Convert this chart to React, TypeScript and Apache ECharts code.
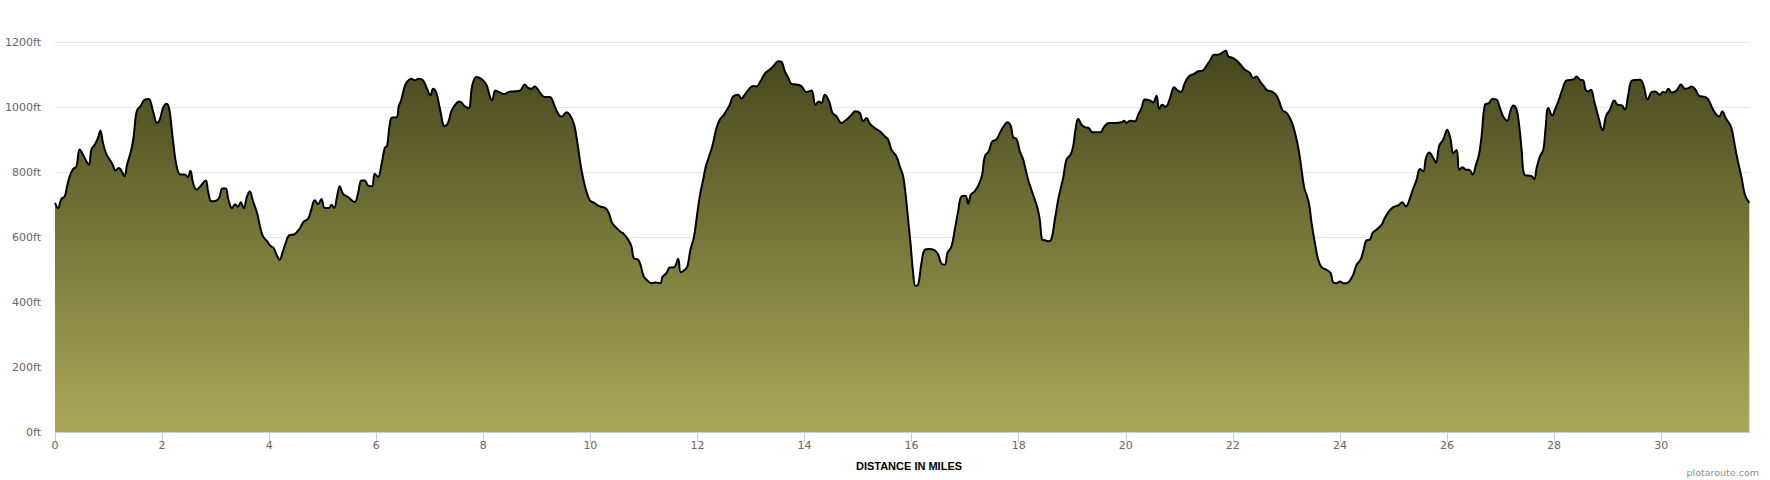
import React, { useEffect, useRef } from "react";
import * as echarts from "echarts";

// [distance in miles, elevation in feet]
const segmentA: [number, number][] = [
  [0, 705], [0.057, 689], [0.119, 717], [0.181, 725], [0.225, 756], [0.275, 787], [0.337, 809], [0.399, 817], [0.461, 869], [0.524, 853],
  [0.586, 833], [0.636, 822], [0.679, 869], [0.742, 884], [0.804, 905], [0.848, 928], [0.897, 889], [0.959, 855], [1.022, 838], [1.084, 820],
  [1.128, 805], [1.19, 812], [1.24, 804], [1.296, 787], [1.346, 822], [1.427, 869], [1.47, 910], [1.508, 971], [1.539, 992], [1.595, 1002],
  [1.676, 1023], [1.75, 1025], [1.831, 987], [1.906, 951], [1.956, 961], [2.019, 997], [2.081, 1010], [2.13, 997], [2.174, 941], [2.217, 879],
  [2.267, 822], [2.342, 792], [2.423, 792], [2.479, 784], [2.529, 804], [2.579, 766], [2.641, 746], [2.716, 756], [2.815, 774], [2.859, 741],
  [2.921, 710], [2.996, 711], [3.064, 720], [3.127, 749], [3.189, 749], [3.239, 715], [3.307, 689], [3.363, 701], [3.419, 693], [3.469, 707],
  [3.525, 689], [3.587, 725], [3.637, 740], [3.699, 710], [3.774, 674], [3.836, 628], [3.886, 602], [3.961, 587], [4.023, 573], [4.085, 566],
  [4.135, 546], [4.198, 530], [4.247, 551], [4.31, 582], [4.372, 605], [4.478, 609], [4.559, 623], [4.646, 647], [4.727, 656], [4.789, 686],
  [4.852, 713], [4.914, 701], [4.976, 717], [5.039, 689], [5.12, 689], [5.163, 699], [5.213, 689], [5.269, 725], [5.319, 756],
];

const segmentB: [number, number][] = [
  [5.381, 733], [5.474, 723], [5.599, 708], [5.661, 735], [5.723, 774], [5.785, 774], [5.848, 758], [5.922, 756], [5.972, 795], [6.034, 785],
  [6.097, 822], [6.159, 874], [6.203, 881], [6.252, 946], [6.296, 968], [6.377, 968], [6.421, 1002], [6.47, 1023], [6.533, 1064], [6.582, 1079],
  [6.657, 1087], [6.719, 1082], [6.794, 1087], [6.875, 1082], [6.956, 1053], [7.012, 1036], [7.062, 1056], [7.124, 1043], [7.187, 997], [7.28, 941],
  [7.342, 951], [7.404, 987], [7.498, 1012], [7.56, 1017], [7.654, 1002], [7.728, 997], [7.791, 1064], [7.872, 1092], [7.965, 1086], [8.058, 1069],
  [8.121, 1033], [8.164, 1020], [8.226, 1051], [8.307, 1045], [8.401, 1040], [8.451, 1045], [8.556, 1048], [8.681, 1050], [8.774, 1069], [8.837, 1059],
  [8.899, 1056], [8.961, 1064], [9.055, 1045], [9.148, 1031], [9.241, 1031], [9.335, 1002], [9.41, 976], [9.472, 971], [9.553, 984], [9.615, 976],
  [9.696, 946], [9.758, 889], [9.833, 807], [9.908, 751], [9.989, 713], [10.07, 705], [10.175, 694], [10.281, 689], [10.344, 674], [10.406, 643],
  [10.487, 628], [10.58, 614],
];

const segmentC: [number, number][] = [
  [10.611, 612], [10.705, 592], [10.767, 571], [10.811, 535], [10.891, 530], [10.935, 515], [10.997, 479], [11.078, 464], [11.141, 458], [11.222, 460],
  [11.309, 458], [11.346, 477], [11.421, 489], [11.483, 506], [11.564, 507], [11.639, 533], [11.689, 491], [11.763, 499], [11.813, 510], [11.869, 561],
  [11.931, 597], [11.981, 653], [12.043, 725], [12.106, 776], [12.156, 817], [12.218, 848], [12.28, 881], [12.355, 935], [12.417, 961], [12.492, 976],
  [12.554, 992], [12.604, 1007], [12.666, 1033], [12.76, 1038], [12.822, 1026], [12.884, 1038], [12.978, 1058], [13.04, 1065], [13.102, 1063], [13.177, 1079],
  [13.258, 1103], [13.351, 1115], [13.426, 1127], [13.507, 1141], [13.569, 1139], [13.631, 1110], [13.694, 1091], [13.756, 1071], [13.849, 1069], [13.943, 1064],
  [14.036, 1046], [14.13, 1051], [14.204, 1007], [14.267, 1017], [14.316, 1012], [14.379, 1038], [14.46, 1017], [14.522, 982], [14.597, 971], [14.69, 951],
  [14.783, 961], [14.877, 976], [14.951, 987], [15.032, 982], [15.095, 956], [15.157, 966], [15.219, 949], [15.313, 935], [15.406, 925], [15.499, 910],
  [15.562, 900], [15.624, 869], [15.717, 848], [15.78, 817], [15.842, 787], [15.892, 725],
];

const segmentD: [number, number][] = [
  [15.923, 674], [15.979, 582], [16.029, 489], [16.072, 450], [16.122, 453], [16.184, 520], [16.247, 561], [16.321, 563], [16.433, 559], [16.496, 546],
  [16.558, 518], [16.62, 515], [16.67, 551], [16.745, 571], [16.807, 623], [16.869, 679], [16.932, 725], [17.006, 727], [17.056, 702], [17.106, 730],
  [17.181, 741], [17.255, 761], [17.318, 792], [17.367, 848], [17.442, 864], [17.504, 894], [17.585, 900], [17.648, 920], [17.71, 938], [17.791, 953],
  [17.853, 941], [17.897, 907], [17.959, 902], [18.021, 864], [18.084, 838], [18.177, 776], [18.27, 730], [18.351, 689], [18.395, 653], [18.439, 592],
  [18.488, 590], [18.551, 587], [18.613, 594], [18.675, 653], [18.75, 725], [18.831, 782], [18.893, 838], [18.968, 853], [19.018, 879], [19.061, 930],
  [19.111, 964], [19.173, 946], [19.236, 938], [19.31, 935], [19.379, 922], [19.454, 922], [19.528, 922], [19.591, 938], [19.684, 951], [19.796, 951],
  [19.921, 953], [19.97, 958], [20.014, 951], [20.076, 958], [20.17, 956], [20.232, 976], [20.294, 997], [20.356, 1023], [20.45, 1020], [20.512, 1014],
  [20.574, 1035], [20.624, 994], [20.68, 1007], [20.743, 1000], [20.823, 1025], [20.904, 1061], [20.967, 1051], [21.029, 1046], [21.104, 1074], [21.178, 1094],
  [21.278, 1102],
];

const segmentE: [number, number][] = [
  [21.354, 1110], [21.435, 1112], [21.509, 1127], [21.584, 1146], [21.646, 1161], [21.727, 1161], [21.79, 1166], [21.871, 1173], [21.914, 1156], [21.995, 1151],
  [22.07, 1143], [22.145, 1130], [22.225, 1115], [22.319, 1105], [22.381, 1089], [22.443, 1094], [22.506, 1079], [22.58, 1064], [22.643, 1051], [22.724, 1048],
  [22.805, 1038], [22.867, 1017], [22.929, 990], [23.004, 982], [23.066, 966], [23.128, 941], [23.191, 900], [23.24, 858], [23.284, 807], [23.334, 751],
  [23.377, 730], [23.427, 699], [23.471, 643], [23.533, 582], [23.595, 530], [23.658, 507], [23.751, 499], [23.826, 489], [23.876, 460], [23.938, 458],
  [24.0, 463], [24.062, 458], [24.125, 458], [24.187, 466], [24.249, 484], [24.312, 515], [24.386, 530], [24.436, 556], [24.498, 590], [24.561, 592],
  [24.61, 612], [24.685, 623], [24.779, 638], [24.841, 659], [24.916, 679], [24.996, 692], [25.09, 697], [25.165, 707], [25.233, 694], [25.295, 713],
  [25.358, 744], [25.432, 776], [25.495, 809], [25.557, 802], [25.607, 843], [25.669, 860], [25.744, 843], [25.794, 829], [25.856, 881], [25.931, 900],
  [26.005, 930], [26.068, 900], [26.117, 858], [26.18, 868], [26.229, 807], [26.292, 815], [26.354, 807], [26.416, 807], [26.479, 792], [26.541, 822],
];

const segmentF: [number, number][] = [
  [26.597, 853], [26.647, 910], [26.709, 1007], [26.784, 1012], [26.846, 1025], [26.927, 1023], [26.989, 997], [27.051, 971], [27.126, 958], [27.188, 990],
  [27.238, 1005], [27.3, 992], [27.35, 941], [27.394, 869], [27.444, 792], [27.518, 789], [27.581, 787], [27.63, 778], [27.674, 812], [27.736, 848],
  [27.799, 869], [27.842, 935], [27.892, 997], [27.967, 974], [28.016, 992], [28.079, 1017], [28.153, 1053], [28.234, 1082], [28.328, 1084], [28.378, 1086],
  [28.421, 1094], [28.483, 1084], [28.546, 1082], [28.589, 1053], [28.639, 1048], [28.689, 1053], [28.751, 1017], [28.826, 971], [28.907, 928], [28.969, 971],
  [29.044, 992], [29.125, 1020], [29.187, 1007], [29.262, 1005], [29.324, 992], [29.386, 1038], [29.461, 1082], [29.604, 1084], [29.667, 1069], [29.748, 1023],
  [29.822, 1046], [29.885, 1048], [29.978, 1038], [30.028, 1046], [30.084, 1045], [30.134, 1056], [30.196, 1045], [30.289, 1051], [30.37, 1069], [30.445, 1056],
  [30.507, 1058], [30.57, 1063], [30.644, 1053], [30.706, 1035], [30.819, 1031], [30.881, 1023], [30.956, 997], [31.018, 979], [31.086, 971], [31.142, 987],
  [31.205, 966], [31.286, 946], [31.329, 925], [31.379, 879], [31.441, 828], [31.504, 782], [31.566, 730], [31.647, 705],
];

const xTickValues = [0, 2, 4, 6, 8, 10, 12, 14, 16, 18, 20, 22, 24, 26, 28, 30];
const xMax = 31.66;
const yMax = 1200;
const yInterval = 200;
const yUnit = "ft";
const xAxisTitle = "DISTANCE IN MILES";
const creditText = "plotaroute.com";

export default function App() {
  const ref = useRef<HTMLDivElement>(null);

  useEffect(() => {
    if (!ref.current) return;
    const chart = echarts.init(ref.current, undefined, { renderer: "svg" });
    const profile = [...segmentA, ...segmentB, ...segmentC, ...segmentD, ...segmentE, ...segmentF];
    const font = "'DejaVu Sans', Verdana, sans-serif";

    chart.setOption({
      animation: false,
      backgroundColor: "#ffffff",
      grid: { left: 55, right: 20, top: 42, height: 390, containLabel: false },
      xAxis: {
        type: "value",
        min: 0,
        max: xMax,
        interval: 2,
        axisLine: { show: true, lineStyle: { color: "#C0D0E0", width: 1 } },
        axisTick: { show: true, length: 10, lineStyle: { color: "#C0D0E0" }, customValues: xTickValues },
        axisLabel: {
          color: "#666666",
          fontSize: 11,
          fontFamily: font,
          margin: 8,
          customValues: xTickValues,
          formatter: (v: number) => String(v),
        },
        splitLine: { show: false },
      },
      yAxis: {
        type: "value",
        min: 0,
        max: yMax,
        interval: yInterval,
        axisLine: { show: false },
        axisTick: { show: false },
        axisLabel: {
          color: "#666666",
          fontSize: 11,
          fontFamily: font,
          margin: 14,
          formatter: (v: number) => `${v}${yUnit}`,
        },
        splitLine: { show: true, lineStyle: { color: "#e6e6e6", width: 1 } },
      },
      graphic: [
        {
          type: "text",
          x: 909,
          y: 466,
          style: {
            text: xAxisTitle,
            fill: "#000000",
            font: "bold 11px 'Liberation Sans', Arial, sans-serif",
            textAlign: "center",
            textVerticalAlign: "middle",
          },
        },
        {
          type: "text",
          x: 1759,
          y: 472,
          style: {
            text: creditText,
            fill: "#909090",
            font: "9.5px 'DejaVu Sans', Verdana, sans-serif",
            textAlign: "right",
            textVerticalAlign: "middle",
          },
        },
      ],
      series: [
        {
          type: "line",
          data: profile,
          smooth: 0.4,
          showSymbol: false,
          symbol: "none",
          lineStyle: { color: "#000000", width: 2 },
          areaStyle: {
            color: new echarts.graphic.LinearGradient(0, 0, 0, 1, [
              { offset: 0, color: "#46461d" },
              { offset: 1, color: "#aaa958" },
            ]),
            opacity: 1,
          },
          z: 2,
        },
      ],
    });

    return () => chart.dispose();
  }, []);

  return (
    <div
      ref={ref}
      style={{ position: "absolute", left: 0, top: 0, width: 1770, height: 480 }}
    />
  );
}
